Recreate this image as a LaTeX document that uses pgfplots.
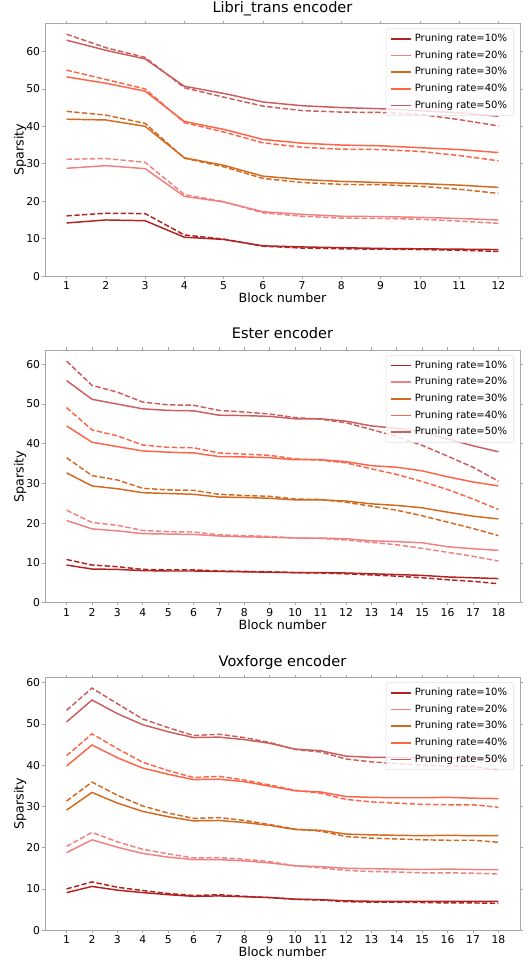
\documentclass[border=0pt]{standalone}
\usepackage{fontspec}
\setmainfont{DejaVu Sans}
\usepackage{pgfplots}
\usepackage{pgfplotstable}
\pgfplotsset{compat=1.18}

\definecolor{pr10}{HTML}{B22222}
\definecolor{pr20}{HTML}{F08080}
\definecolor{pr30}{HTML}{D2691E}
\definecolor{pr40}{HTML}{FF6347}
\definecolor{pr50}{HTML}{CD5C5C}

% s = solid, d = dashed
\pgfplotstableread{
x  s10  d10  s20  d20  s30  d30  s40  d40  s50  d50
1  14.2 16.1 28.8 31.2 41.9 44.0 53.2 55.0 63.0 64.6
2  15.0 16.8 29.5 31.4 41.7 43.0 51.5 52.5 60.3 61.0
3  14.8 16.7 28.7 30.4 40.0 40.8 49.4 50.0 58.0 58.4
4  10.4 11.0 21.3 21.8 31.6 31.5 41.3 41.0 50.7 50.3
5  9.8  9.9  19.8 19.9 29.6 29.2 39.2 38.5 48.8 47.8
6  8.1  8.0  17.2 16.9 26.7 26.1 36.5 35.6 46.5 45.4
7  7.8  7.5  16.5 16.0 25.8 25.0 35.5 34.4 45.5 44.2
8  7.6  7.3  16.0 15.5 25.3 24.5 35.0 33.9 45.0 43.8
9  7.4  7.2  15.9 15.4 25.0 24.4 34.8 33.8 44.7 43.7
10 7.3  7.1  15.7 15.2 24.7 24.0 34.3 33.3 44.2 43.2
11 7.2  6.9  15.4 14.7 24.3 23.2 33.8 32.2 43.6 41.8
12 7.1  6.6  15.0 14.1 23.7 22.1 33.0 30.8 42.7 40.1
}\libri

\pgfplotstableread{
x  s10  d10  s20  d20  s30  d30  s40  d40  s50  d50
1  9.5  10.9 20.7 23.3 32.7 36.5 44.5 49.1 55.9 60.8
2  8.5  9.5  18.6 20.2 29.4 32.0 40.4 43.5 51.2 54.7
3  8.4  9.1  18.1 19.5 28.7 30.9 39.3 42.0 50.0 53.0
4  8.1  8.4  17.4 18.2 27.7 28.8 38.2 39.7 48.8 50.5
5  8.0  8.3  17.3 17.9 27.5 28.4 37.9 39.1 48.4 49.8
6  8.0  8.3  17.2 17.8 27.3 28.3 37.7 39.0 48.3 49.7
7  7.9  8.0  16.8 17.1 26.6 27.3 36.8 37.7 47.2 48.4
8  7.8  7.9  16.6 16.9 26.5 27.0 36.7 37.4 47.1 48.0
9  7.7  7.8  16.5 16.7 26.3 26.8 36.5 37.1 46.9 47.5
10 7.6  7.6  16.3 16.3 25.9 26.1 36.0 36.2 46.3 46.6
11 7.6  7.5  16.3 16.2 25.9 26.0 36.0 35.9 46.3 46.2
12 7.5  7.3  16.1 15.8 25.6 25.3 35.5 35.2 45.7 45.3
13 7.3  7.0  15.6 15.2 24.9 24.3 34.5 33.7 44.5 43.6
14 7.1  6.7  15.4 14.6 24.5 23.3 34.1 32.3 43.9 41.8
15 6.9  6.3  15.1 13.7 23.9 21.9 33.2 30.5 43.0 39.6
16 6.5  5.8  14.1 12.7 22.8 20.3 31.7 28.5 41.2 36.9
17 6.3  5.4  13.6 11.7 21.8 18.7 30.4 26.1 39.5 34.1
18 6.1  4.8  13.2 10.5 21.1 16.9 29.4 23.5 38.0 30.6
}\ester

\pgfplotstableread{
x  s10  d10  s20  d20  s30  d30  s40  d40  s50  d50
1  9.1  10.0 18.8 20.3 29.1 31.3 39.8 42.3 50.5 53.3
2  10.6 11.7 21.9 23.7 33.4 35.9 44.9 47.6 55.8 58.7
3  9.7  10.4 20.1 21.4 30.8 32.7 41.8 44.0 52.5 54.9
4  9.1  9.6  18.6 19.6 28.8 30.1 39.3 40.7 49.8 51.2
5  8.6  8.9  17.7 18.5 27.5 28.4 37.8 38.7 48.1 49.1
6  8.2  8.4  17.1 17.5 26.5 27.1 36.5 37.0 46.7 47.2
7  8.3  8.6  17.1 17.6 26.6 27.3 36.6 37.3 46.8 47.5
8  8.1  8.2  16.8 17.2 26.1 26.6 36.0 36.4 46.2 46.7
9  7.9  7.9  16.3 16.6 25.4 25.6 34.9 35.2 45.3 45.5
10 7.5  7.5  15.6 15.6 24.4 24.5 33.8 33.9 43.9 43.8
11 7.4  7.3  15.4 15.1 24.2 24.0 33.5 33.2 43.5 43.2
12 7.1  6.9  15.0 14.5 23.3 22.7 32.4 31.7 42.2 41.5
13 7.0  6.8  14.9 14.2 23.1 22.3 32.2 31.1 41.9 40.8
14 7.0  6.8  14.8 14.1 23.0 22.1 32.1 30.8 41.9 40.4
15 7.0  6.7  14.7 13.9 22.9 21.9 32.1 30.5 41.8 40.0
16 7.0  6.6  14.8 13.9 23.0 21.8 32.2 30.4 41.7 39.8
17 7.0  6.6  14.7 13.8 22.9 21.8 32.0 30.4 41.7 39.7
18 7.0  6.5  14.7 13.6 22.9 21.3 31.9 29.8 41.5 38.9
}\voxforge

\pgfplotsset{
    enc/.style={
        scale only axis,
        width=356.25pt, height=189.6pt,
        anchor=north west,
        ymin=0,
        axis line style={draw=black!35, line width=0.6pt},
        tick style={draw=black!35, line width=0.5pt},
        tick align=outside, major tick length=2pt,
        xtick=data,
        ytick={0,10,20,30,40,50,60},
        ticklabel style={font=\fontsize{8.1}{9}\selectfont},
        /pgf/number format/assume math mode=true,
        xticklabel style={anchor=base, yshift=-8.3pt},
        yticklabel style={inner sep=1.5pt},
        xlabel={Block number},
        ylabel={Sparsity},
        label style={font=\fontsize{9.5}{11}\selectfont},
        xlabel style={at={(axis description cs:0.5,-0.104)}, anchor=base},
        ylabel style={at={(axis description cs:-0.0526,0.5)}, anchor=center},
        title style={at={(axis description cs:0.5,1.012)}, anchor=base,
            font=\fontsize{10.9}{13}\selectfont},
        legend style={at={(1,1)}, anchor=north east, xshift=-4.5pt, yshift=-3.8pt,
            draw=black!12, rounded corners=1.5pt, fill=white, fill opacity=0.8,
            text opacity=1, font=\fontsize{7.5}{9}\selectfont,
            row sep=1.3pt, inner xsep=3pt, inner ysep=2pt},
        legend cell align=left,
        legend image code/.code={\draw[#1, line width=1.1pt] (0pt,0pt) -- (15.5pt,0pt);},
        every axis plot/.append style={line width=1.1pt},
        dashpr/.style={dash pattern=on 4pt off 1.8pt},
    },
}

\newcommand{\encplots}[1]{%
    \addplot[pr10] table[x=x, y=s10] {#1};
    \addplot[pr20] table[x=x, y=s20] {#1};
    \addplot[pr30] table[x=x, y=s30] {#1};
    \addplot[pr40] table[x=x, y=s40] {#1};
    \addplot[pr50] table[x=x, y=s50] {#1};
    \addplot[pr10, dashpr, forget plot] table[x=x, y=d10] {#1};
    \addplot[pr20, dashpr, forget plot] table[x=x, y=d20] {#1};
    \addplot[pr30, dashpr, forget plot] table[x=x, y=d30] {#1};
    \addplot[pr40, dashpr, forget plot] table[x=x, y=d40] {#1};
    \addplot[pr50, dashpr, forget plot] table[x=x, y=d50] {#1};
    \legend{Pruning rate=10\%, Pruning rate=20\%, Pruning rate=30\%,
            Pruning rate=40\%, Pruning rate=50\%}
}

\begin{document}
\begin{tikzpicture}
\useasboundingbox (0,0) rectangle (399pt,-720.75pt);

\begin{axis}[enc, at={(33.75pt,-17.5pt)},
    title={Libri\_trans encoder},
    xmin=0.45, xmax=12.55, ymax=67.5]
    \encplots{\libri}
\end{axis}

\begin{axis}[enc, at={(33.75pt,-262.5pt)},
    title={Ester encoder},
    xmin=0.15, xmax=18.85, ymax=63.6]
    \encplots{\ester}
\end{axis}

\begin{axis}[enc, at={(33.75pt,-508pt)},
    title={Voxforge encoder},
    xmin=0.15, xmax=18.85, ymax=61.3]
    \encplots{\voxforge}
\end{axis}
\end{tikzpicture}
\end{document}
